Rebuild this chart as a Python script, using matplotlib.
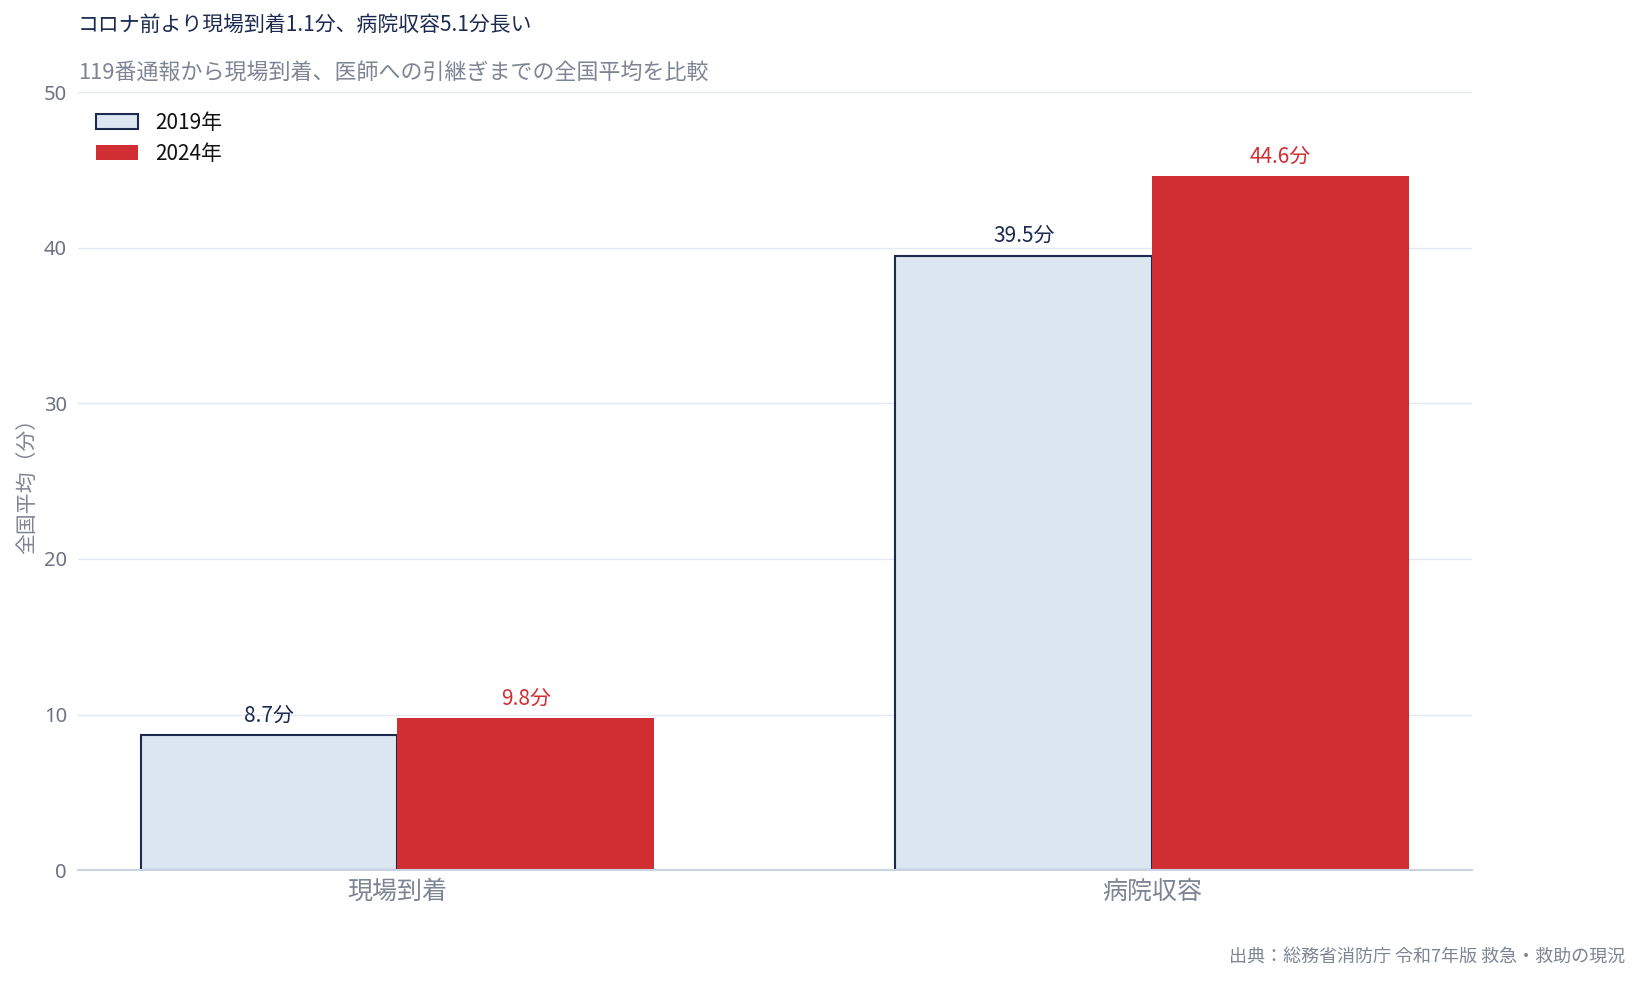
import matplotlib.pyplot as plt
import numpy as np

plt.rcParams['font.family'] = ['Noto Sans CJK JP', 'DejaVu Sans']

categories = ['現場到着', '病院収容']
years = ['2019年', '2024年']
values_2019 = [8.7, 39.5]
values_2024 = [9.8, 44.6]
yticks = [0, 10, 20, 30, 40, 50]

NAVY = '#1b2a4e'
RED = '#d12e33'
LIGHT = '#dce6f1'
GRAY = '#7d8493'

fig = plt.figure(figsize=(16.4, 9.81), dpi=100)
ax = fig.add_axes([0.0476, 0.113, 0.85, 0.793])

x = np.arange(len(categories))
w = 0.34
b1 = ax.bar(x - w / 2, values_2019, w, color=LIGHT, edgecolor=NAVY, linewidth=1.5, label=years[0])
b2 = ax.bar(x + w / 2, values_2024, w, color=RED, edgecolor=RED, linewidth=0, label=years[1])

for rect, v in zip(b1, values_2019):
    ax.annotate(f'{v}分', (rect.get_x() + rect.get_width() / 2, v), xytext=(0, 6),
                textcoords='offset points', ha='center', va='bottom', fontsize=15, color=NAVY)
for rect, v in zip(b2, values_2024):
    ax.annotate(f'{v}分', (rect.get_x() + rect.get_width() / 2, v), xytext=(0, 6),
                textcoords='offset points', ha='center', va='bottom', fontsize=15, color=RED)

ax.set_xlim(-0.423, 1.424)
ax.set_ylim(0, 50)
ax.set_yticks(yticks)
ax.set_yticklabels([str(t) for t in yticks], family=['Noto Sans', 'DejaVu Sans'])
ax.set_xticks(x)
ax.set_xticklabels(categories, fontsize=18, color=GRAY)
ax.tick_params(axis='y', labelsize=14.5, labelcolor='#6b7282', length=0, pad=8)
ax.tick_params(axis='x', length=0, pad=6)
ax.grid(axis='y', color='#e4e8f0', linewidth=1)
ax.set_axisbelow(True)
for s in ['top', 'right', 'left']:
    ax.spines[s].set_visible(False)
ax.spines['bottom'].set_color('#c9d3e1')
ax.spines['bottom'].set_linewidth(1.5)

ax.set_ylabel('全国平均（分）', fontsize=15, color=GRAY, labelpad=4)

leg = ax.legend(loc='upper left', bbox_to_anchor=(0.013, 0.975), frameon=False, fontsize=15,
                handlelength=2.0, handleheight=0.7, labelspacing=0.45, handletextpad=0.85,
                borderpad=0, borderaxespad=0)
for t in leg.get_texts():
    t.set_color('#111111')

fig.text(0.0476, 0.975, 'コロナ前より現場到着1.1分、病院収容5.1分長い', fontsize=15, color=NAVY,
         ha='left', va='center')
fig.text(0.0476, 0.926, '119番通報から現場到着、医師への引継ぎまでの全国平均を比較', fontsize=15.8,
         color=GRAY, ha='left', va='center')
fig.text(0.991, 0.024, '出典：総務省消防庁 令和7年版 救急・救助の現況', fontsize=13, color=GRAY,
         ha='right', va='center')

fig.savefig('out.png', dpi=100)
